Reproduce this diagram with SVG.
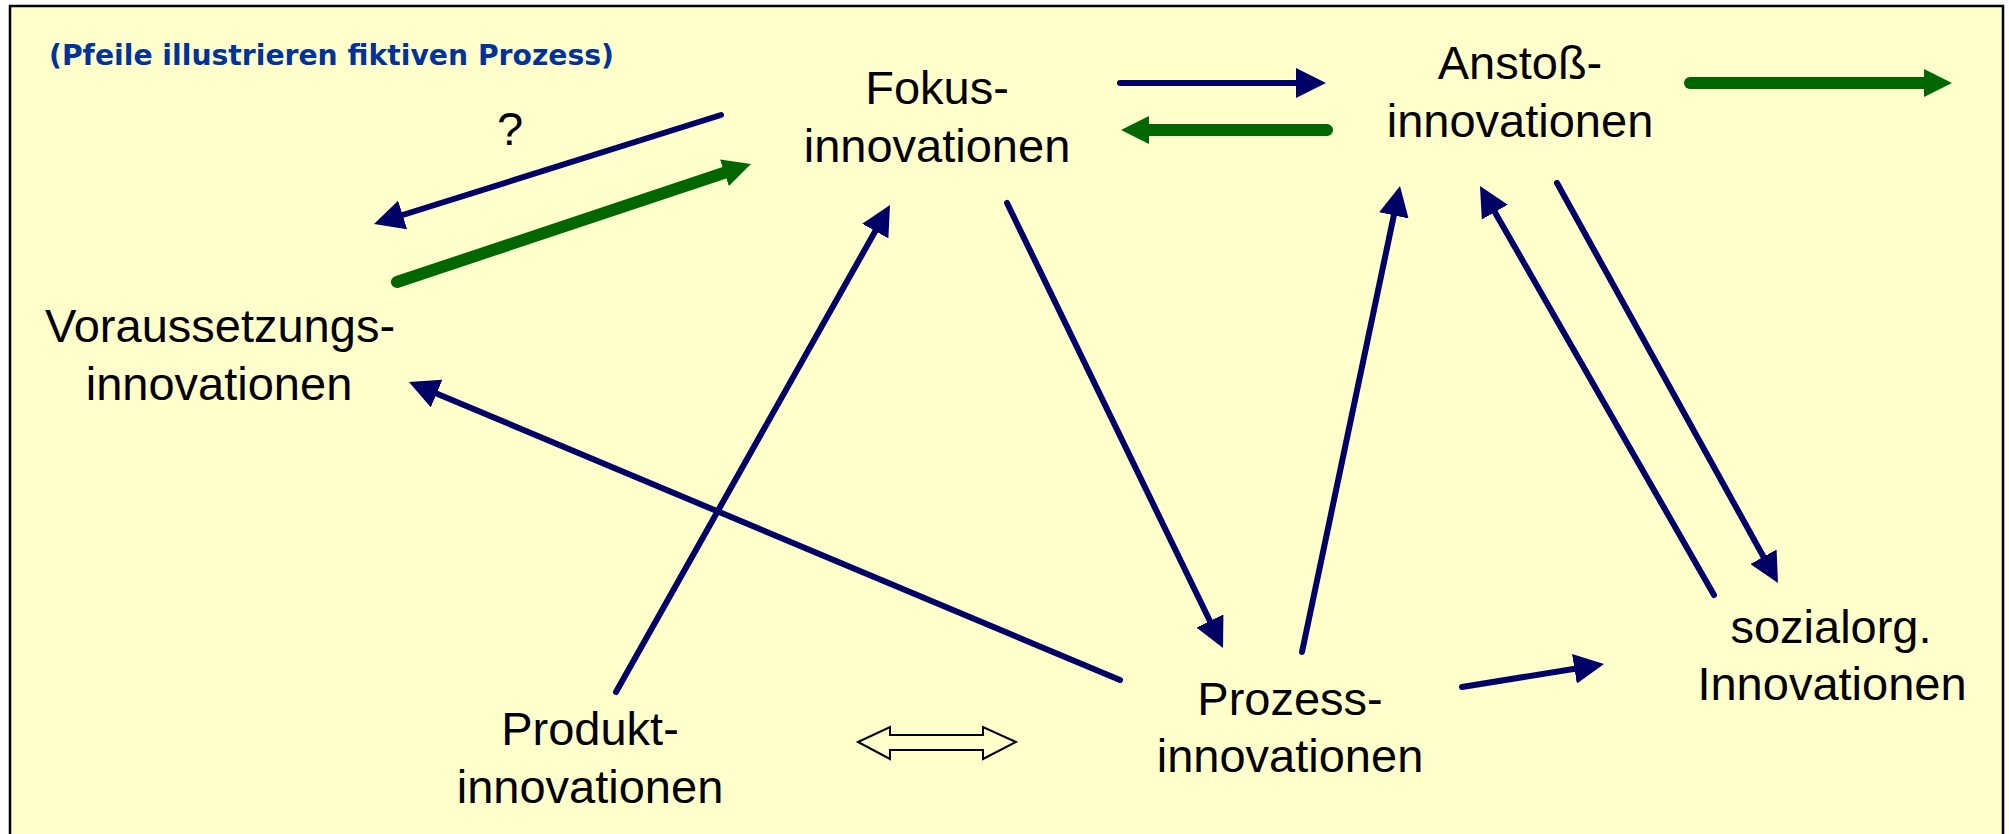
<svg xmlns="http://www.w3.org/2000/svg" width="2009" height="834" viewBox="0 0 2009 834">
  <style>
    .lbl { font-family: "Liberation Sans", Arial, sans-serif; font-size: 47px; fill: #000000; text-anchor: middle; }
    .title { font-family: "DejaVu Sans", "Liberation Sans", sans-serif; font-size: 29px; font-weight: bold; fill: #003399; }
    .blue { stroke: #000066; stroke-width: 6; stroke-linecap: round; fill: none; marker-end: url(#hb); }
    .green { stroke: #006600; stroke-width: 12; stroke-linecap: round; fill: none; marker-end: url(#hg); }
  </style>
  <defs>
    <marker id="hb" markerUnits="userSpaceOnUse" viewBox="0 0 30 30" markerWidth="30" markerHeight="30" refX="10" refY="15" orient="auto">
      <path d="M0,0 L30,15 L0,30 z" fill="#000066"/>
    </marker>
    <marker id="hg" markerUnits="userSpaceOnUse" viewBox="0 0 28 28" markerWidth="28" markerHeight="28" refX="8" refY="14" orient="auto">
      <path d="M0,0 L28,14 L0,28 z" fill="#006600"/>
    </marker>
  </defs>

  <rect x="10" y="6" width="1993" height="840" fill="#FFFFCC" stroke="#000000" stroke-width="2.5"/>

  <text class="title" x="49" y="65" textLength="565" lengthAdjust="spacingAndGlyphs">(Pfeile illustrieren fiktiven Prozess)</text>

  <g id="connectors">
    <path class="blue" d="M721,115 L393.1,218.0"/>
    <path class="green" d="M397,282 L732.0,170.3"/>
    <path class="blue" d="M1120,83 L1306,83"/>
    <path class="green" d="M1327,130 L1141,130"/>
    <path class="green" d="M1690,83 L1932,83"/>
    <path class="blue" d="M616,692 L880.2,222.4"/>
    <path class="blue" d="M1007,203 L1214.3,630.0"/>
    <path class="blue" d="M1120,680 L427.4,389.7"/>
    <path class="blue" d="M1302,652 L1395.9,205.6"/>
    <path class="blue" d="M1714,595 L1489.9,203.4"/>
    <path class="blue" d="M1557,183 L1768.3,565.5"/>
    <path class="blue" d="M1462,687 L1584.3,667.2"/>
    <text class="lbl" x="510" y="145">?</text>
    <polygon id="doublearrow" points="858,742 890,727 890,735 983,735 983,727 1016,742 983,759 983,750 890,750 890,759" fill="#FFFFCC" stroke="#000000" stroke-width="2" stroke-linejoin="miter"/>
  </g>

  <g id="fokus">
    <text class="lbl" x="937" y="104">Fokus-</text>
    <text class="lbl" x="937" y="162">innovationen</text>
  </g>
  <g id="anstoss">
    <text class="lbl" x="1520" y="79">Anstoß-</text>
    <text class="lbl" x="1520" y="137">innovationen</text>
  </g>
  <g id="voraussetzung">
    <text class="lbl" x="220" y="342">Voraussetzungs-</text>
    <text class="lbl" x="219" y="400">innovationen</text>
  </g>
  <g id="produkt">
    <text class="lbl" x="590" y="745">Produkt-</text>
    <text class="lbl" x="590" y="803">innovationen</text>
  </g>
  <g id="prozess">
    <text class="lbl" x="1290" y="715">Prozess-</text>
    <text class="lbl" x="1290" y="772">innovationen</text>
  </g>
  <g id="sozialorg">
    <text class="lbl" x="1831" y="643">sozialorg.</text>
    <text class="lbl" x="1832" y="700">Innovationen</text>
  </g>
</svg>
